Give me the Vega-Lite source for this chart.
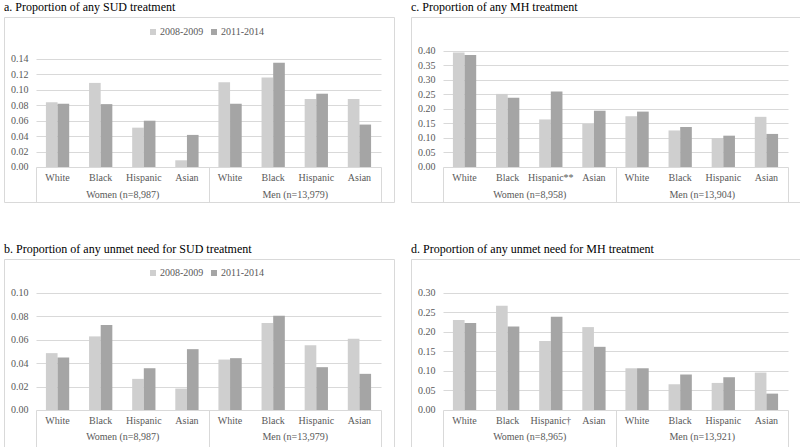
{
  "$schema": "https://vega.github.io/schema/vega-lite/v6.json",
  "padding": {"left": 3, "top": 0, "right": 0, "bottom": 0},
  "background": "white",
  "spacing": 39,
  "datasets": {
    "a": [
      {"g": "Women (n=8,987)", "k": "Women (n=8,987)|White", "p": "2008-2009", "v": 0.084},
      {"g": "Women (n=8,987)", "k": "Women (n=8,987)|White", "p": "2011-2014", "v": 0.082},
      {"g": "Women (n=8,987)", "k": "Women (n=8,987)|Black", "p": "2008-2009", "v": 0.109},
      {"g": "Women (n=8,987)", "k": "Women (n=8,987)|Black", "p": "2011-2014", "v": 0.0815},
      {"g": "Women (n=8,987)", "k": "Women (n=8,987)|Hispanic", "p": "2008-2009", "v": 0.051},
      {"g": "Women (n=8,987)", "k": "Women (n=8,987)|Hispanic", "p": "2011-2014", "v": 0.060},
      {"g": "Women (n=8,987)", "k": "Women (n=8,987)|Asian", "p": "2008-2009", "v": 0.0087},
      {"g": "Women (n=8,987)", "k": "Women (n=8,987)|Asian", "p": "2011-2014", "v": 0.0416},
      {"g": "Men (n=13,979)", "k": "Men (n=13,979)|White", "p": "2008-2009", "v": 0.110},
      {"g": "Men (n=13,979)", "k": "Men (n=13,979)|White", "p": "2011-2014", "v": 0.082},
      {"g": "Men (n=13,979)", "k": "Men (n=13,979)|Black", "p": "2008-2009", "v": 0.116},
      {"g": "Men (n=13,979)", "k": "Men (n=13,979)|Black", "p": "2011-2014", "v": 0.135},
      {"g": "Men (n=13,979)", "k": "Men (n=13,979)|Hispanic", "p": "2008-2009", "v": 0.088},
      {"g": "Men (n=13,979)", "k": "Men (n=13,979)|Hispanic", "p": "2011-2014", "v": 0.095},
      {"g": "Men (n=13,979)", "k": "Men (n=13,979)|Asian", "p": "2008-2009", "v": 0.088},
      {"g": "Men (n=13,979)", "k": "Men (n=13,979)|Asian", "p": "2011-2014", "v": 0.055}
    ],
    "c": [
      {"g": "Women (n=8,958)", "k": "Women (n=8,958)|White", "p": "2008-2009", "v": 0.395},
      {"g": "Women (n=8,958)", "k": "Women (n=8,958)|White", "p": "2011-2014", "v": 0.386},
      {"g": "Women (n=8,958)", "k": "Women (n=8,958)|Black", "p": "2008-2009", "v": 0.252},
      {"g": "Women (n=8,958)", "k": "Women (n=8,958)|Black", "p": "2011-2014", "v": 0.239},
      {"g": "Women (n=8,958)", "k": "Women (n=8,958)|Hispanic**", "p": "2008-2009", "v": 0.164},
      {"g": "Women (n=8,958)", "k": "Women (n=8,958)|Hispanic**", "p": "2011-2014", "v": 0.260},
      {"g": "Women (n=8,958)", "k": "Women (n=8,958)|Asian", "p": "2008-2009", "v": 0.149},
      {"g": "Women (n=8,958)", "k": "Women (n=8,958)|Asian", "p": "2011-2014", "v": 0.194},
      {"g": "Men (n=13,904)", "k": "Men (n=13,904)|White", "p": "2008-2009", "v": 0.175},
      {"g": "Men (n=13,904)", "k": "Men (n=13,904)|White", "p": "2011-2014", "v": 0.191},
      {"g": "Men (n=13,904)", "k": "Men (n=13,904)|Black", "p": "2008-2009", "v": 0.126},
      {"g": "Men (n=13,904)", "k": "Men (n=13,904)|Black", "p": "2011-2014", "v": 0.138},
      {"g": "Men (n=13,904)", "k": "Men (n=13,904)|Hispanic", "p": "2008-2009", "v": 0.100},
      {"g": "Men (n=13,904)", "k": "Men (n=13,904)|Hispanic", "p": "2011-2014", "v": 0.108},
      {"g": "Men (n=13,904)", "k": "Men (n=13,904)|Asian", "p": "2008-2009", "v": 0.173},
      {"g": "Men (n=13,904)", "k": "Men (n=13,904)|Asian", "p": "2011-2014", "v": 0.114}
    ],
    "b": [
      {"g": "Women (n=8,987)", "k": "Women (n=8,987)|White", "p": "2008-2009", "v": 0.0486},
      {"g": "Women (n=8,987)", "k": "Women (n=8,987)|White", "p": "2011-2014", "v": 0.0449},
      {"g": "Women (n=8,987)", "k": "Women (n=8,987)|Black", "p": "2008-2009", "v": 0.0629},
      {"g": "Women (n=8,987)", "k": "Women (n=8,987)|Black", "p": "2011-2014", "v": 0.0726},
      {"g": "Women (n=8,987)", "k": "Women (n=8,987)|Hispanic", "p": "2008-2009", "v": 0.0266},
      {"g": "Women (n=8,987)", "k": "Women (n=8,987)|Hispanic", "p": "2011-2014", "v": 0.0357},
      {"g": "Women (n=8,987)", "k": "Women (n=8,987)|Asian", "p": "2008-2009", "v": 0.0183},
      {"g": "Women (n=8,987)", "k": "Women (n=8,987)|Asian", "p": "2011-2014", "v": 0.052},
      {"g": "Men (n=13,979)", "k": "Men (n=13,979)|White", "p": "2008-2009", "v": 0.0431},
      {"g": "Men (n=13,979)", "k": "Men (n=13,979)|White", "p": "2011-2014", "v": 0.0443},
      {"g": "Men (n=13,979)", "k": "Men (n=13,979)|Black", "p": "2008-2009", "v": 0.0743},
      {"g": "Men (n=13,979)", "k": "Men (n=13,979)|Black", "p": "2011-2014", "v": 0.0806},
      {"g": "Men (n=13,979)", "k": "Men (n=13,979)|Hispanic", "p": "2008-2009", "v": 0.0554},
      {"g": "Men (n=13,979)", "k": "Men (n=13,979)|Hispanic", "p": "2011-2014", "v": 0.0366},
      {"g": "Men (n=13,979)", "k": "Men (n=13,979)|Asian", "p": "2008-2009", "v": 0.0609},
      {"g": "Men (n=13,979)", "k": "Men (n=13,979)|Asian", "p": "2011-2014", "v": 0.0309}
    ],
    "d": [
      {"g": "Women (n=8,965)", "k": "Women (n=8,965)|White", "p": "2008-2009", "v": 0.231},
      {"g": "Women (n=8,965)", "k": "Women (n=8,965)|White", "p": "2011-2014", "v": 0.223},
      {"g": "Women (n=8,965)", "k": "Women (n=8,965)|Black", "p": "2008-2009", "v": 0.267},
      {"g": "Women (n=8,965)", "k": "Women (n=8,965)|Black", "p": "2011-2014", "v": 0.214},
      {"g": "Women (n=8,965)", "k": "Women (n=8,965)|Hispanic†", "p": "2008-2009", "v": 0.177},
      {"g": "Women (n=8,965)", "k": "Women (n=8,965)|Hispanic†", "p": "2011-2014", "v": 0.239},
      {"g": "Women (n=8,965)", "k": "Women (n=8,965)|Asian", "p": "2008-2009", "v": 0.2126},
      {"g": "Women (n=8,965)", "k": "Women (n=8,965)|Asian", "p": "2011-2014", "v": 0.162},
      {"g": "Men (n=13,921)", "k": "Men (n=13,921)|White", "p": "2008-2009", "v": 0.107},
      {"g": "Men (n=13,921)", "k": "Men (n=13,921)|White", "p": "2011-2014", "v": 0.107},
      {"g": "Men (n=13,921)", "k": "Men (n=13,921)|Black", "p": "2008-2009", "v": 0.066},
      {"g": "Men (n=13,921)", "k": "Men (n=13,921)|Black", "p": "2011-2014", "v": 0.091},
      {"g": "Men (n=13,921)", "k": "Men (n=13,921)|Hispanic", "p": "2008-2009", "v": 0.0694},
      {"g": "Men (n=13,921)", "k": "Men (n=13,921)|Hispanic", "p": "2011-2014", "v": 0.084},
      {"g": "Men (n=13,921)", "k": "Men (n=13,921)|Asian", "p": "2008-2009", "v": 0.096},
      {"g": "Men (n=13,921)", "k": "Men (n=13,921)|Asian", "p": "2011-2014", "v": 0.042}
    ]
  },
  "vconcat": [
    {
      "spacing": 15,
      "hconcat": [
        {
          "width": 390, "height": 185,
          "title": {"text": "a. Proportion of any SUD treatment"},
          "data": {"name": "a"},
          "layer": [
            {
              "mark": {"type": "bar"},
              "encoding": {
                "x": {"field": "k", "type": "nominal", "sort": null,
                  "scale": {"range": [32, 377], "paddingInner": 0.46, "paddingOuter": 0.23},
                  "axis": {"orient": "bottom", "offset": -35, "domain": false, "ticks": false, "labelExpr": "split(datum.label,'|')[1]", "labelPadding": 5, "labelAngle": 0, "title": null}},
                "xOffset": {"field": "p", "type": "nominal"},
                "y": {"field": "v", "type": "quantitative",
                  "scale": {"domain": [-0.04537, 0.19444], "nice": false, "zero": false},
                  "axis": {"values": [0, 0.02, 0.04, 0.06, 0.08, 0.1, 0.12, 0.14], "format": ".2f", "offset": -32, "domain": false, "ticks": false, "labelPadding": 8, "title": null, "grid": true}},
                "y2": {"datum": 0},
                "fill": {"field": "p", "type": "nominal",
                  "scale": {"domain": ["2008-2009", "2011-2014"], "range": ["#cfcfcf", "#a5a5a5"]},
                  "legend": {"orient": "none", "legendX": 144, "legendY": 10, "direction": "horizontal", "title": null}}
              }
            },
            {
              "mark": {"type": "rule", "opacity": 0},
              "encoding": {
                "x": {"field": "g", "type": "nominal", "sort": null,
                  "scale": {"range": [32, 377], "paddingInner": 0, "paddingOuter": 0},
                  "axis": {"orient": "bottom", "offset": -35, "domain": false, "tickBand": "extent", "tickSize": 35, "labelPadding": -13, "labelAngle": 0, "title": null}}
              }
            }
          ],
          "resolve": {"scale": {"x": "independent"}, "axis": {"x": "independent"}}
        },
        {
          "width": 390, "height": 185,
          "title": {"text": "c. Proportion of any MH treatment"},
          "data": {"name": "c"},
          "layer": [
            {
              "mark": {"type": "bar"},
              "encoding": {
                "x": {"field": "k", "type": "nominal", "sort": null,
                  "scale": {"range": [32, 377], "paddingInner": 0.46, "paddingOuter": 0.23},
                  "axis": {"orient": "bottom", "offset": -35, "domain": false, "ticks": false, "labelExpr": "split(datum.label,'|')[1]", "labelPadding": 5, "labelAngle": 0, "title": null}},
                "xOffset": {"field": "p", "type": "nominal"},
                "y": {"field": "v", "type": "quantitative",
                  "scale": {"domain": [-0.1207, 0.5172], "nice": false, "zero": false},
                  "axis": {"values": [0, 0.05, 0.1, 0.15, 0.2, 0.25, 0.3, 0.35, 0.4], "format": ".2f", "offset": -32, "domain": false, "ticks": false, "labelPadding": 8, "title": null, "grid": true}},
                "y2": {"datum": 0},
                "fill": {"field": "p", "type": "nominal",
                  "scale": {"domain": ["2008-2009", "2011-2014"], "range": ["#cfcfcf", "#a5a5a5"]},
                  "legend": {"orient": "none", "legendX": 146, "legendY": 10, "direction": "horizontal", "title": null}}
              }
            },
            {
              "mark": {"type": "rule", "opacity": 0},
              "encoding": {
                "x": {"field": "g", "type": "nominal", "sort": null,
                  "scale": {"range": [32, 377], "paddingInner": 0, "paddingOuter": 0},
                  "axis": {"orient": "bottom", "offset": -35, "domain": false, "tickBand": "extent", "tickSize": 35, "labelPadding": -13, "labelAngle": 0, "title": null}}
              }
            }
          ],
          "resolve": {"scale": {"x": "independent"}, "axis": {"x": "independent"}}
        }
      ]
    },
    {
      "spacing": 15,
      "hconcat": [
        {
          "width": 390, "height": 189,
          "title": {"text": "b. Proportion of any unmet need for SUD treatment"},
          "data": {"name": "b"},
          "layer": [
            {
              "mark": {"type": "bar"},
              "encoding": {
                "x": {"field": "k", "type": "nominal", "sort": null,
                  "scale": {"range": [32, 377], "paddingInner": 0.46, "paddingOuter": 0.23},
                  "axis": {"orient": "bottom", "offset": -38, "domain": false, "ticks": false, "labelExpr": "split(datum.label,'|')[1]", "labelPadding": 5, "labelAngle": 0, "title": null}},
                "xOffset": {"field": "p", "type": "nominal"},
                "y": {"field": "v", "type": "quantitative",
                  "scale": {"domain": [-0.03248, 0.12906], "nice": false, "zero": false},
                  "axis": {"values": [0, 0.02, 0.04, 0.06, 0.08, 0.1], "format": ".2f", "offset": -32, "domain": false, "ticks": false, "labelPadding": 8, "title": null, "grid": true}},
                "y2": {"datum": 0},
                "fill": {"field": "p", "type": "nominal",
                  "scale": {"domain": ["2008-2009", "2011-2014"], "range": ["#cfcfcf", "#a5a5a5"]},
                  "legend": {"orient": "none", "legendX": 144, "legendY": 9, "direction": "horizontal", "title": null}}
              }
            },
            {
              "mark": {"type": "rule", "opacity": 0},
              "encoding": {
                "x": {"field": "g", "type": "nominal", "sort": null,
                  "scale": {"range": [32, 377], "paddingInner": 0, "paddingOuter": 0},
                  "axis": {"orient": "bottom", "offset": -38, "domain": false, "tickBand": "extent", "tickSize": 38, "labelPadding": -17, "labelAngle": 0, "title": null}}
              }
            }
          ],
          "resolve": {"scale": {"x": "independent"}, "axis": {"x": "independent"}}
        },
        {
          "width": 390, "height": 189,
          "title": {"text": "d. Proportion of any unmet need for MH treatment"},
          "data": {"name": "d"},
          "layer": [
            {
              "mark": {"type": "bar"},
              "encoding": {
                "x": {"field": "k", "type": "nominal", "sort": null,
                  "scale": {"range": [32, 377], "paddingInner": 0.46, "paddingOuter": 0.23},
                  "axis": {"orient": "bottom", "offset": -38, "domain": false, "ticks": false, "labelExpr": "split(datum.label,'|')[1]", "labelPadding": 5, "labelAngle": 0, "title": null}},
                "xOffset": {"field": "p", "type": "nominal"},
                "y": {"field": "v", "type": "quantitative",
                  "scale": {"domain": [-0.09744, 0.38718], "nice": false, "zero": false},
                  "axis": {"values": [0, 0.05, 0.1, 0.15, 0.2, 0.25, 0.3], "format": ".2f", "offset": -32, "domain": false, "ticks": false, "labelPadding": 8, "title": null, "grid": true}},
                "y2": {"datum": 0},
                "fill": {"field": "p", "type": "nominal",
                  "scale": {"domain": ["2008-2009", "2011-2014"], "range": ["#cfcfcf", "#a5a5a5"]},
                  "legend": {"orient": "none", "legendX": 146, "legendY": 9, "direction": "horizontal", "title": null}}
              }
            },
            {
              "mark": {"type": "rule", "opacity": 0},
              "encoding": {
                "x": {"field": "g", "type": "nominal", "sort": null,
                  "scale": {"range": [32, 377], "paddingInner": 0, "paddingOuter": 0},
                  "axis": {"orient": "bottom", "offset": -38, "domain": false, "tickBand": "extent", "tickSize": 38, "labelPadding": -17, "labelAngle": 0, "title": null}}
              }
            }
          ],
          "resolve": {"scale": {"x": "independent"}, "axis": {"x": "independent"}}
        }
      ]
    }
  ],
  "resolve": {"scale": {"fill": "independent"}},
  "config": {
    "view": {"stroke": "#d9d9d9", "strokeWidth": 1},
    "font": "Liberation Serif",
    "title": {"anchor": "start", "frame": "group", "offset": 3, "font": "Liberation Serif", "fontSize": 12, "fontWeight": "normal", "color": "#000000"},
    "axis": {"labelFont": "Liberation Serif", "labelFontSize": 10, "labelColor": "#595959", "gridColor": "#d9d9d9", "gridWidth": 1, "tickColor": "#d9d9d9", "tickWidth": 1},
    "legend": {"labelFont": "Liberation Serif", "labelFontSize": 10, "labelColor": "#595959", "symbolType": "square", "symbolSize": 36, "symbolStrokeWidth": 0, "columnPadding": 5, "labelOffset": 2}
  }
}
